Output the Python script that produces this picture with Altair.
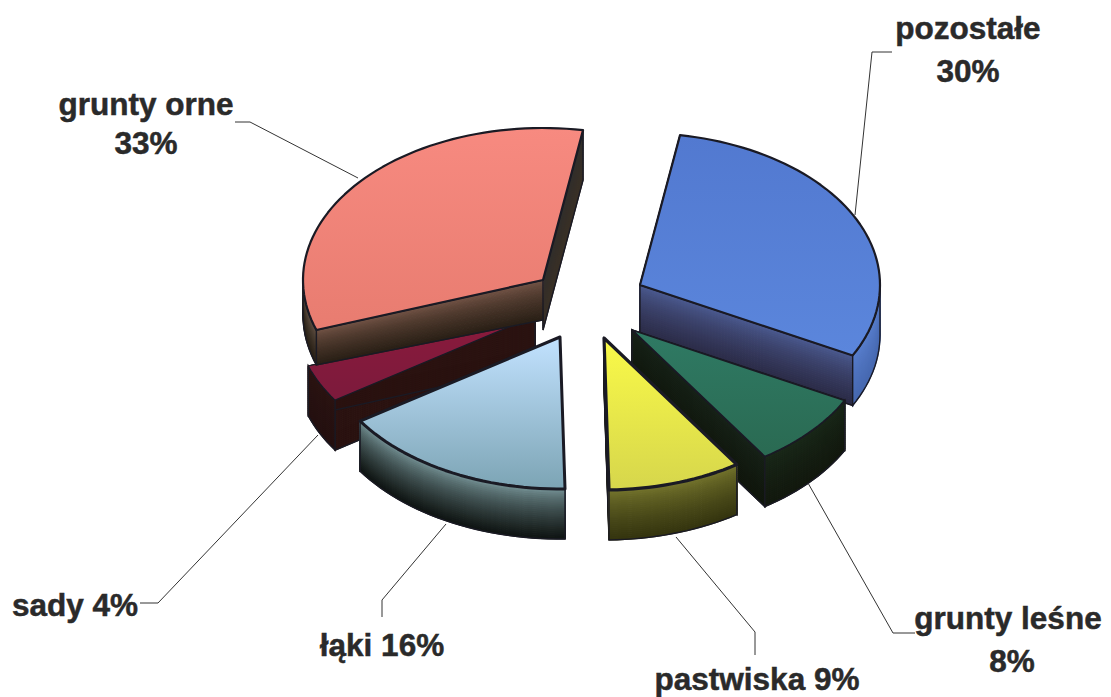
import math
import altair as alt

# --- values
LABELS = [["pozostałe", "30%"], ["grunty leśne", "8%"], ["pastwiska 9%"], ["łąki 16%"], ["sady 4%"], ["grunty orne", "33%"]]
SHARES = [30, 8, 9, 16, 4, 33]

# --- layout (page pixels)
START = 9.6
RX, RY, DEPTH = 240, 152, 50
APEX = [(640, 285), (632, 330), (604, 338), (560, 337), (535, 316), (543, 280)]
DRAW_ORDER = [4, 5, 0, 1, 3, 2]
BANDS = 25
OUTLINE = "#1a1a24"

# --- styles: top gradient, start wall, end wall, rim wall (top colour, bottom colour), outline width
STYLES = [
    dict(top=("#5279d0", "#5b86dc"), a=("#2a2a3c", "#1c1c28"), b=("#4f6099", "#2b2a45"), rim=("#5b82d2", "#4668b0"), w=2.2),
    dict(top=("#2f7a64", "#2a6a52"), a=("#18241a", "#12180e"), b=("#18241a", "#10160c"), rim=("#1a2a1a", "#12180e"), w=1.8),
    dict(top=("#fafa48", "#d6d64c"), a=("#20200c", "#20200c"), b=("#20200c", "#20200c"), rim=("#7c7c30", "#34340f"), w=3.2),
    dict(top=("#c2e2ff", "#7ca4b4"), a=("#1a1c1c", "#141414"), b=("#1a1c1c", "#141414"), rim=("#7f9ea2", "#0f1412"), w=3.0),
    dict(top=("#8a1a3c", "#7c1a3c"), a=("#2c1412", "#2a1210"), b=("#2c1412", "#2a1210"), rim=("#2c1412", "#241010"), w=1.2),
    dict(top=("#f78a80", "#e87c70"), a=("#7c5a4c", "#2a2016"), b=("#2e2e2e", "#3a3026"), rim=("#6c5a4c", "#282016"), w=2.2),
]
# red wedge: its front wall looks shallower than the other walls
RED = 5
RED_FRONT = (35, 40)  # depth at its left and right ends
RED_X = (316, 543)
LEADERS = [
    [(892, 52), (872, 52), (855, 215)],
    [(808, 483), (893, 633), (915, 633)],
    [(676, 537), (755, 632), (755, 655)],
    [(446, 524), (382, 600), (382, 617)],
    [(140, 603), (158, 603), (318, 435)],
    [(235, 122), (250, 122), (358, 178)],
]
TEXT_POS = [[(968, 39), (968, 82)], [(1008, 629), (1012, 672)], [(757, 690)], [(382, 656)], [(75, 616)], [(146, 115), (146, 154)]]

PROJ = dict(type="identity", scale=1, translate=[-8, -8])


def mix(c0, c1, t):
    a = [int(c0[i:i + 2], 16) for i in (1, 3, 5)]
    b = [int(c1[i:i + 2], 16) for i in (1, 3, 5)]
    return "#%02x%02x%02x" % tuple(round(x + (y - x) * t) for x, y in zip(a, b))


def rim_pt(apex, deg):
    r = math.radians(deg)
    return (apex[0] + RX * math.sin(r), apex[1] - RY * math.cos(r))


def arc(apex, a0, a1):
    n = max(2, int(abs(a1 - a0) / 2) + 1)
    return [rim_pt(apex, a0 + (a1 - a0) * i / n) for i in range(n + 1)]


def feature(ring, fill, stroke, width):
    ring = [list(p) for p in ring] + [list(ring[0])]
    return {"type": "Feature", "geometry": {"type": "Polygon", "coordinates": [ring]},
            "properties": {"fill": fill, "stroke": stroke, "width": width}}


def plain_depth(x):
    return DEPTH


def red_depth(x):
    t = min(1, max(0, (x - RED_X[0]) / (RED_X[1] - RED_X[0])))
    return RED_FRONT[0] + (RED_FRONT[1] - RED_FRONT[0]) * t


def extruded(path, colors, depth=plain_depth):
    out = []
    for b in range(BANDS):
        t0, t1 = b / BANDS, (b + 1) / BANDS
        col = mix(colors[0], colors[1], ((b + .5) / BANDS) ** 0.65)
        ring = [(x, y + t0 * depth(x)) for x, y in path] + [(x, y + t1 * depth(x)) for x, y in reversed(path)]
        out.append(feature(ring, col, col, 1.2))
    ring = list(path) + [(x, y + depth(x)) for x, y in reversed(path)]
    out.append(feature(ring, "transparent", OUTLINE, 1.4))
    return out


layers = []
spans = []
cur = START
for s in SHARES:
    spans.append((cur, cur + s * 3.6))
    cur += s * 3.6

for i in DRAW_ORDER:
    a0, a1 = spans[i]
    ap = APEX[i]
    st = STYLES[i]
    front = red_depth if i == RED else plain_depth
    wall_a = extruded([ap, rim_pt(ap, a0)], st["a"], front)
    wall_b = extruded([ap, rim_pt(ap, a1)], st["b"])
    feats = wall_b + wall_a if i == RED else wall_a + wall_b
    v0, v1 = max(a0, 90), min(a1, 270)
    if v1 > v0:
        feats += extruded(arc(ap, v0, v1), st["rim"], front)
    layers.append(
        alt.Chart(alt.Data(values=feats)).mark_geoshape().encode(
            fill=alt.Fill("properties.fill:N", scale=None, legend=None),
            stroke=alt.Stroke("properties.stroke:N", scale=None, legend=None),
            strokeWidth=alt.StrokeWidth("properties.width:Q", scale=None, legend=None),
        ).project(**PROJ)
    )
    ring = [ap] + arc(ap, a0, a1)
    top = feature(ring, "", OUTLINE, st["w"])
    layers.append(
        alt.Chart(alt.Data(values=[top])).mark_geoshape(
            fill=alt.Gradient(gradient="linear", x1=0, x2=0, y1=0, y2=1,
                              stops=[alt.GradientStop(color=st["top"][0], offset=0),
                                     alt.GradientStop(color=st["top"][1], offset=1)]),
            stroke=OUTLINE, strokeWidth=st["w"], strokeJoin="round",
        ).project(**PROJ)
    )

for path in LEADERS:
    line = {"type": "Feature", "geometry": {"type": "LineString", "coordinates": [list(p) for p in path]}, "properties": {}}
    layers.append(
        alt.Chart(alt.Data(values=[line])).mark_geoshape(filled=False, stroke="#333333", strokeWidth=1)
        .project(**PROJ)
    )

for rows, poss in zip(LABELS, TEXT_POS):
    for t, (x, y) in zip(rows, poss):
        layers.append(
            alt.Chart(alt.Data(values=[{"t": t}])).mark_text(
                font="Liberation Sans", fontWeight="bold", fontSize=31.5, color="#2a2a2a",
                stroke="#2a2a2a", strokeWidth=0.5,
                align="center", baseline="alphabetic",
            ).encode(text="t:N", x=alt.value(x - 8), y=alt.value(y - 8))
        )

chart = alt.layer(*layers).properties(
    width=1095, height=689, padding=0, autosize=alt.AutoSizeParams(type="none"),
    background="white",
).configure_view(stroke=None)

chart.save("out.html", embed_options={"renderer": "svg", "actions": False})
